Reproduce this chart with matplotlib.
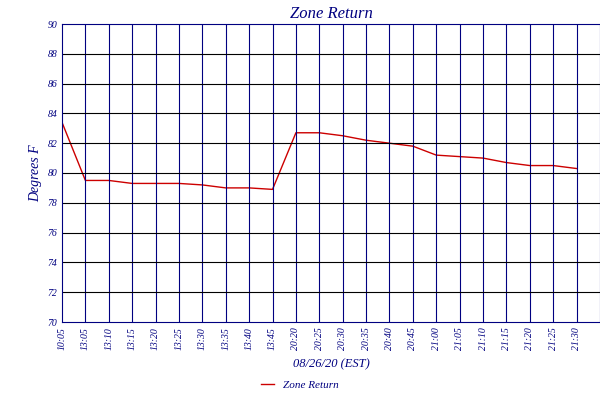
import matplotlib
matplotlib.use("Agg")
import matplotlib.pyplot as plt

labels = ["10:05","13:05","13:10","13:15","13:20","13:25","13:30","13:35","13:40","13:45",
          "20:20","20:25","20:30","20:35","20:40","20:45","21:00","21:05","21:10","21:15",
          "21:20","21:25","21:30"]
values = [83.4,79.5,79.5,79.3,79.3,79.3,79.2,79.0,79.0,78.9,
          82.7,82.7,82.5,82.2,82.0,81.8,81.2,81.1,81.0,80.7,80.5,80.5,80.3]
yticks = list(range(70, 91, 2))

navy = "#000080"
plt.rcParams['font.family'] = ['Liberation Serif', 'DejaVu Serif']
fig = plt.figure(figsize=(6, 4), dpi=100)
ax = fig.add_axes([62/600, 1-322/400, 538/600, 298/400])
x = list(range(len(values)))
ax.plot(x, values, color="#cc0000", lw=1)
ax.set_xlim(0, len(values))
ax.set_ylim(70, 90)
ax.set_yticks(yticks)
ax.set_xticks(x)
ax.set_xticklabels(labels, rotation=90, fontsize=7, style='italic', color=navy)
ax.tick_params(axis='y', labelsize=7, labelcolor=navy, length=0)
for t in ax.get_yticklabels():
    t.set_style('italic')
ax.tick_params(axis='x', length=0)
ax.set_xticks(list(range(len(values) + 1)), minor=True)
ax.grid(False)
for xv in range(1, len(values)):
    ax.axvline(xv, color=navy, lw=0.8)
for yv in yticks[1:-1]:
    ax.axhline(yv, color="black", lw=0.8)
for s in ax.spines.values():
    s.set_color(navy)
ax.set_title("Zone Return", fontsize=12, style='italic', color=navy, pad=4)
ax.set_ylabel("Degrees F", fontsize=10, style='italic', color=navy)
ax.set_xlabel("08/26/20 (EST)", fontsize=9, style='italic', color=navy, labelpad=6)
ax.plot([], [], color="#cc0000", lw=1, label="Zone Return")
leg = fig.legend(loc='lower center', bbox_to_anchor=(0.5, 0.0), frameon=False,
                 prop={'size': 8, 'style': 'italic'}, handlelength=1.2)
for t in leg.get_texts():
    t.set_color(navy)
fig.savefig("out.png", dpi=100)
